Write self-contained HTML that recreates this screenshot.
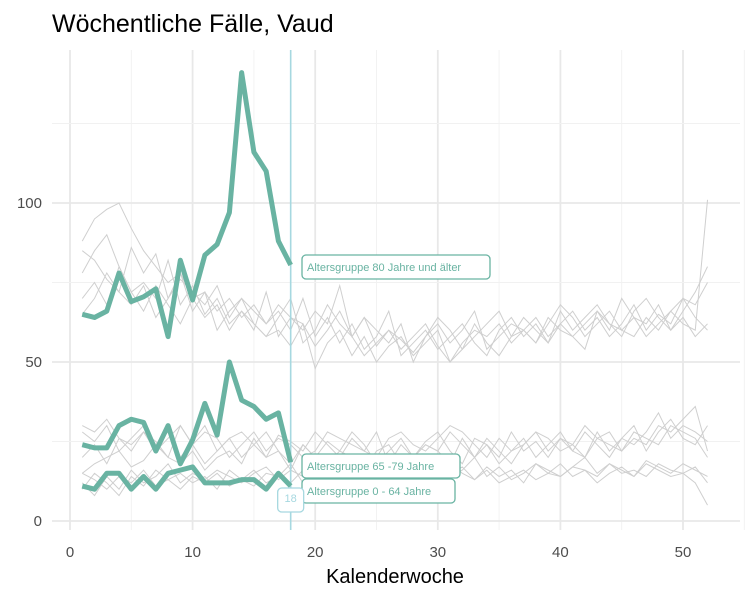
<!DOCTYPE html>
<html><head><meta charset="utf-8"><style>
body{margin:0;background:#fff}
svg{display:block;font-family:"Liberation Sans",sans-serif}
</style></head><body>
<svg id="c" width="750" height="600">
<text x="52" y="32" font-size="25" fill="#000">Wöchentliche Fälle, Vaud</text>
<text x="395" y="583" font-size="20" text-anchor="middle" fill="#000">Kalenderwoche</text>
</svg>
<script>
const weeks = Array.from({length:52},(_, i)=>i+1);
const xTicks = [0,10,20,30,40,50];
const yTicks = [0,50,100];
const cur80 = [65,64,66,78,69,70.5,73,58,82,69.5,83.6,87,97,141,116,110,88,80.5];
const cur65 = [24,23,23,30,32,31,22,30,18,25.5,37,27,50,38,36,32,34,18.5];
const cur0 = [11,10,15,15,10,14,10,15,16,17,12,12,12,13,13,10,15,11];
const labels = ["Altersgruppe 80 Jahre und älter","Altersgruppe 65 -79 Jahre","Altersgruppe 0 - 64 Jahre"];
const currentWeek = 18;
const hist80a=[78,85,90,80,72,75,70,82,68,74,65,70,62,66,60,72,58,64,62,55,60,66,58,52,56,60,54,58,62,55,50,56,60,58,62,56,60,64,58,62,66,60,64,58,62,68,60,65,62,70,64,60];
const hist80b=[88,95,98,100,92,85,80,75,78,70,72,66,70,64,68,62,66,60,70,58,64,56,62,54,58,66,52,56,60,54,58,62,56,52,60,64,58,62,56,66,60,64,68,62,58,66,70,64,60,66,72,80];
const hist80c=[70,75,68,80,72,66,74,68,62,70,64,68,60,66,62,58,64,70,56,60,68,62,58,64,55,60,57,53,58,62,56,60,66,54,58,62,60,56,64,60,58,62,66,60,70,64,62,68,60,64,58,62];
const hist80d=[85,82,76,72,86,78,84,70,76,72,68,74,64,70,66,62,68,64,60,66,62,74,58,64,60,56,62,50,58,64,60,54,58,62,66,58,60,56,62,68,64,58,62,66,60,64,58,62,66,70,68,75];
const hist80e=[65,70,78,72,68,74,64,70,78,66,72,60,66,70,62,58,60,55,62,48,56,60,52,58,50,55,58,52,56,60,50,54,62,56,52,58,64,60,56,62,58,54,66,62,60,58,64,60,66,62,60,101];
const hist65a=[28,25,30,22,26,30,24,28,20,25,30,22,26,28,24,20,27,25,22,28,24,20,26,22,28,18,24,20,25,28,22,18,26,24,20,28,22,25,20,26,22,28,24,20,26,30,22,28,32,26,24,30];
const hist65b=[20,24,18,26,22,28,25,20,30,24,18,22,26,20,24,28,22,18,24,20,25,22,28,24,18,22,26,20,24,22,28,24,20,26,22,18,24,28,22,26,24,20,28,22,26,24,28,34,26,30,28,25];
const hist65c=[30,28,32,26,24,28,22,26,30,24,28,26,20,24,28,22,26,24,20,22,28,26,24,22,20,26,28,24,22,26,30,28,24,20,26,22,24,28,26,22,24,30,26,28,22,26,24,30,28,32,36,22];
const hist65d=[15,18,20,22,17,19,24,20,18,22,16,20,22,18,26,20,22,16,24,20,18,22,20,16,22,24,18,20,24,22,18,26,20,24,18,22,26,20,24,28,22,20,26,24,22,28,26,24,30,28,26,20];
const hist0a=[12,8,14,10,16,12,14,18,12,15,13,16,14,12,15,17,13,16,14,12,18,15,13,16,14,18,15,12,16,14,18,15,13,17,14,16,12,18,15,14,17,16,14,18,15,16,14,18,16,15,17,12];
const hist0b=[15,13,10,14,12,16,11,13,15,12,14,10,16,13,11,15,14,12,16,13,15,11,14,17,13,15,12,16,14,12,15,17,13,16,12,14,16,13,15,18,14,16,12,15,17,14,18,16,14,15,12,5];
const hist0c=[10,15,12,8,14,11,16,13,10,14,12,15,11,13,16,12,14,18,12,15,13,11,16,14,12,15,18,13,16,12,14,16,20,14,17,13,15,18,16,14,17,20,15,18,16,14,19,17,15,18,16,14];

const X=v=>70+v*12.26, Y=v=>521-v*3.18;
const L=52,R=740,T=50,B=530;
const svg=document.getElementById('c');
const NS='http://www.w3.org/2000/svg';
function mk(t,a,p){const e=document.createElementNS(NS,t);for(const k in a)e.setAttribute(k,a[k]);(p||svg).appendChild(e);return e;}
const g=mk('g',{});


for(let i=0;i<xTicks.length;i++){
  const v=xTicks[i];
  const ln=mk('line',{x1:X(v),x2:X(v),y1:T,y2:B,stroke:'#e8e8e8','stroke-width':1.8},g);
  
  
  const m=mk('line',{x1:X(v+5),x2:X(v+5),y1:T,y2:B,stroke:'#f1f1f1','stroke-width':0.9},g);
  
  
  const t=mk('text',{x:X(v),y:557,'font-size':15,'text-anchor':'middle',fill:'#4d4d4d'});
  t.textContent=v;
  
  
}
for(let i=0;i<yTicks.length;i++){
  const v=yTicks[i];
  const ln=mk('line',{x1:L,x2:R,y1:Y(v),y2:Y(v),stroke:'#e8e8e8','stroke-width':1.8},g);
  
  
  const m=mk('line',{x1:L,x2:R,y1:Y(v+25),y2:Y(v+25),stroke:'#f1f1f1','stroke-width':0.9},g);
  
  
  const t=mk('text',{x:42,y:Y(v)+5,'font-size':15,'text-anchor':'end',fill:'#4d4d4d'});
  t.textContent=v;
  
  
}
function pts(arr){return arr.map((v,i)=>X(weeks[i])+','+Y(v)).join(' ');}
const hist=[hist80a,hist80b,hist80c,hist80d,hist80e,hist65a,hist65b,hist65c,hist65d,hist0a,hist0b,hist0c];
hist.forEach(a=>{
  const p=mk('polyline',{points:pts(a),fill:'none',stroke:'#cfcfcf','stroke-width':1});
  
  
});
const vl=mk('line',{x1:X(currentWeek),x2:X(currentWeek),y1:T,y2:B,stroke:'#a6d8e0','stroke-width':1.6});


const cur=[cur80,cur65,cur0];
const labY=[266,465,490];
cur.forEach((a,k)=>{
  const p=mk('polyline',{points:pts(a),fill:'none',stroke:'#69b3a2','stroke-width':5,'stroke-linejoin':'round'});
  
  
  const w=[188,158,153][k];
  const r=mk('rect',{x:302,y:labY[k]-11,width:w,height:24,rx:4,fill:'#fff',stroke:'#69b3a2','stroke-width':1.3});
  
  
  const t=mk('text',{x:307,y:labY[k]+5,'font-size':11,fill:'#69b3a2'});
  t.textContent=labels[k];
  
  
});
const wb=mk('rect',{x:X(currentWeek)-13,y:488,width:26,height:24,rx:4,fill:'#fff',stroke:'#a6d8e0','stroke-width':1.3});


const wt=mk('text',{x:X(currentWeek),y:502,'font-size':11,'text-anchor':'middle',fill:'#a6d8e0'});
wt.textContent=currentWeek;


</script>
</body></html>
